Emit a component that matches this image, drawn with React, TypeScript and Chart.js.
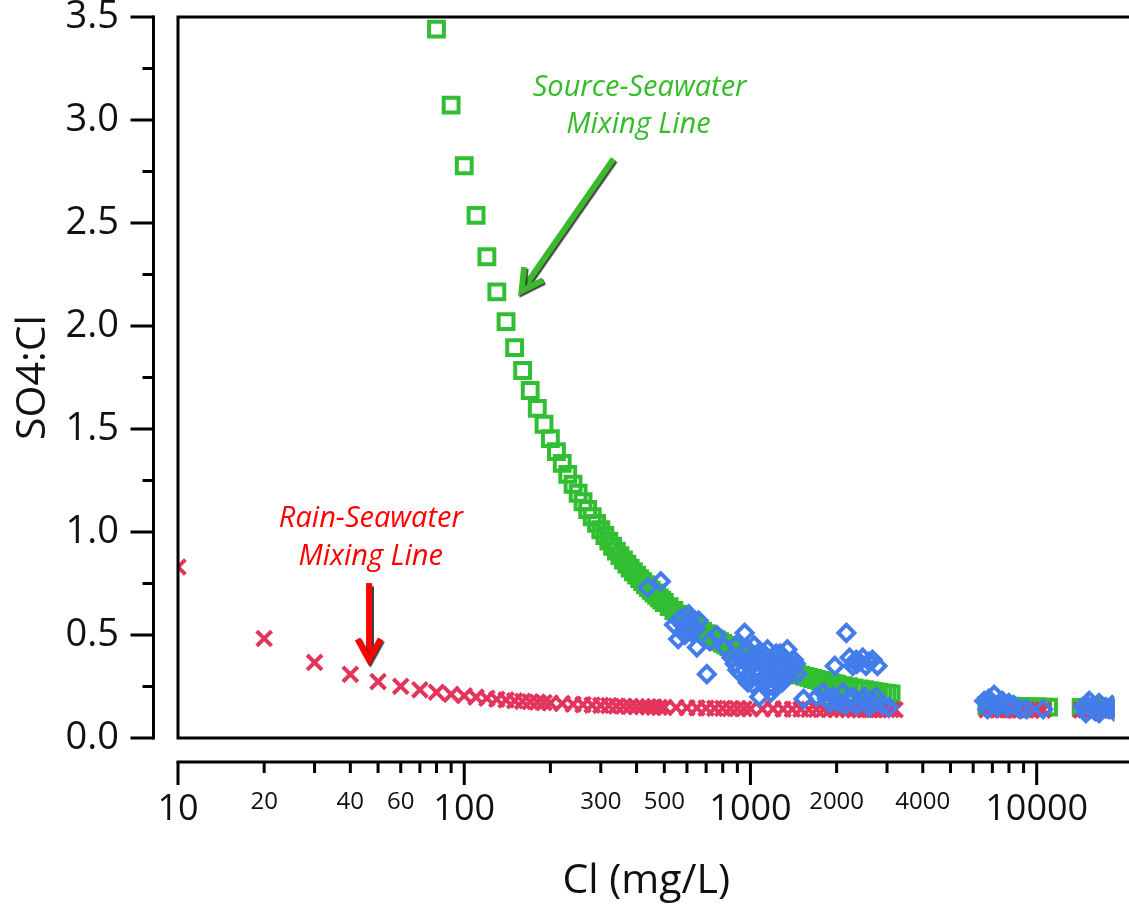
import React, { useEffect, useRef } from 'react';
import { Chart, registerables } from 'chart.js';

Chart.register(...registerables);

// ---------- DATA ----------
// Rain–Seawater mixing line (red ×)
const rainCl = [
  10, 20, 30, 40, 50, 60, 70, 80, 90, 100, 110, 120, 130, 140, 150, 160, 170, 180, 190, 200,
  220, 240, 260, 280, 300, 320, 340, 360, 380, 400, 420, 440, 460, 480, 500,
  550, 600, 650, 700, 750, 800, 850, 900, 950, 1000,
  1100, 1200, 1300, 1400, 1500, 1600, 1700, 1800, 1900, 2000, 2100, 2200, 2300, 2400, 2500, 2600, 2700, 2800, 2900, 3000, 3100, 3200,
  6700, 7000, 7300, 7600, 7900, 8200, 8500, 8800, 9200, 9600, 10000, 10500,
  14300, 14800, 15300, 15800, 16300, 16800, 17300, 17800, 18300, 18800,
];
const rainRatio = [
  0.830, 0.483, 0.367, 0.309, 0.274, 0.251, 0.234, 0.222, 0.212, 0.205, 0.198, 0.193, 0.188, 0.185, 0.181, 0.178, 0.176, 0.174, 0.172, 0.170,
  0.167, 0.164, 0.162, 0.160, 0.158, 0.157, 0.155, 0.154, 0.153, 0.152, 0.152, 0.151, 0.150, 0.149, 0.149,
  0.148, 0.147, 0.146, 0.145, 0.144, 0.144, 0.143, 0.143, 0.142, 0.142,
  0.141, 0.141, 0.140, 0.140, 0.140, 0.139, 0.139, 0.139, 0.139, 0.138, 0.138, 0.138, 0.138, 0.138, 0.138, 0.138, 0.138, 0.137, 0.137, 0.137, 0.137, 0.137,
  0.136, 0.137, 0.136, 0.135, 0.136, 0.136, 0.135, 0.136, 0.136, 0.135, 0.136, 0.135,
  0.135, 0.136, 0.135, 0.135, 0.136, 0.135, 0.135, 0.134, 0.135, 0.135,
];

// Source–Seawater mixing line (green squares)
const sourceCl = [
  80, 90, 100, 110, 120, 130, 140, 150, 160, 170, 180, 190, 200, 210, 220, 230, 240, 250, 260, 270,
  280, 290, 300, 310, 320, 330, 340, 350, 360, 370, 380, 390, 400, 410, 420, 430, 440, 450, 460, 470,
  480, 490, 500,
  520, 540, 560, 580, 600, 620, 640, 660, 680, 700, 720, 740, 760, 780, 800, 820, 840, 860, 880, 900,
  920, 940, 960, 980, 1000,
  1050, 1100, 1150, 1200, 1250, 1300, 1350, 1400, 1450, 1500, 1550, 1600, 1650, 1700, 1750, 1800, 1850,
  1900, 1950, 2000,
  2100, 2200, 2300, 2400, 2500, 2600, 2700, 2800, 2900, 3000, 3100,
  6700, 7000, 7300, 7600, 7900, 8200, 8500, 8800, 9200, 9600, 10000, 10500, 11000,
  14300, 14800, 15300, 15800, 16300, 16800, 17300, 17800, 18300, 18800,
];
const sourceRatio = [
  3.441, 3.072, 2.778, 2.537, 2.336, 2.166, 2.021, 1.895, 1.784, 1.687, 1.600, 1.523, 1.453, 1.390, 1.333, 1.280, 1.232, 1.188, 1.147, 1.109,
  1.074, 1.042, 1.011, 0.983, 0.956, 0.931, 0.907, 0.885, 0.864, 0.844, 0.825, 0.807, 0.791, 0.774, 0.759, 0.744, 0.730, 0.717, 0.704, 0.692,
  0.680, 0.669, 0.658,
  0.638, 0.619, 0.601, 0.585, 0.570, 0.555, 0.542, 0.530, 0.518, 0.507, 0.496, 0.486, 0.477, 0.468, 0.459, 0.451, 0.443, 0.436, 0.429, 0.422,
  0.416, 0.410, 0.404, 0.398, 0.393,
  0.380, 0.369, 0.358, 0.349, 0.340, 0.332, 0.324, 0.317, 0.311, 0.305, 0.299, 0.294, 0.289, 0.284, 0.279, 0.275, 0.271,
  0.268, 0.264, 0.261,
  0.254, 0.249, 0.243, 0.238, 0.234, 0.230, 0.226, 0.223, 0.219, 0.216, 0.214,
  0.158, 0.157, 0.156, 0.155, 0.155, 0.154, 0.153, 0.153, 0.152, 0.151, 0.151, 0.150, 0.150,
  0.148, 0.148, 0.147, 0.147, 0.146, 0.146, 0.146, 0.145, 0.145, 0.145,
];

// Water samples (blue diamonds)
const sampleCl = [
  437, 486,
  562, 609, 633, 585, 541, 659, 625, 575, 600, 645, 590, 615,
  559, 650, 704, 762, 721, 812, 954,
  905, 979, 1060, 1147, 1209, 1005, 1117, 1242, 1380, 1417, 929, 1060, 1178, 1309, 979, 1242, 881, 1345, 1455,
  1030, 1270, 1100, 1400, 950, 1200, 890,
  920, 960, 1020, 1090, 1130, 1170, 1230, 1290, 1330, 1040, 1140, 1210, 1250, 990, 1110, 1200, 1290, 1020, 1160, 1390, 1440, 900, 860,
  1074, 1178, 1533, 1705,
  1797, 1945, 2106, 2279, 2467, 2051, 2341, 2743, 3047, 1894, 2601,
  1850, 2000, 2200, 2400, 2500, 2700, 2900, 2150, 2600,
  1971, 2163,
  2220, 2341, 2467, 2279, 2534, 2670, 2778, 2400, 2600, 2350,
  6560, 7100, 7580, 6730, 7290, 7890, 8310, 8760, 9240, 10540, 6900, 7400, 8000, 6800,
  14480, 15260, 16510, 17410, 14860, 16510, 18360, 15700, 16000, 17900, 18600, 15000,
];
const sampleRatio = [
  0.73, 0.76,
  0.57, 0.60, 0.54, 0.52, 0.55, 0.57, 0.51, 0.58, 0.55, 0.53, 0.50, 0.57,
  0.48, 0.44, 0.31, 0.50, 0.47, 0.44, 0.51,
  0.39, 0.43, 0.41, 0.43, 0.39, 0.35, 0.36, 0.35, 0.36, 0.38, 0.31, 0.30, 0.31, 0.30, 0.27, 0.27, 0.36, 0.43, 0.31,
  0.45, 0.41, 0.27, 0.33, 0.33, 0.25, 0.45,
  0.40, 0.37, 0.38, 0.39, 0.40, 0.37, 0.41, 0.38, 0.36, 0.33, 0.34, 0.33, 0.31, 0.30, 0.29, 0.29, 0.27, 0.26, 0.25, 0.32, 0.36, 0.33, 0.39,
  0.20, 0.22, 0.19, 0.20,
  0.22, 0.20, 0.22, 0.20, 0.19, 0.17, 0.16, 0.20, 0.15, 0.17, 0.15,
  0.19, 0.18, 0.19, 0.17, 0.20, 0.17, 0.16, 0.16, 0.18,
  0.35, 0.51,
  0.39, 0.38, 0.39, 0.35, 0.35, 0.38, 0.35, 0.37, 0.37, 0.36,
  0.18, 0.21, 0.18, 0.14, 0.15, 0.15, 0.16, 0.14, 0.14, 0.14, 0.17, 0.17, 0.17, 0.19,
  0.15, 0.18, 0.17, 0.15, 0.12, 0.12, 0.16, 0.15, 0.13, 0.14, 0.13, 0.16,
];

// Axis ticks
const yMajorTicks = [0, 0.5, 1.0, 1.5, 2.0, 2.5, 3.0, 3.5];
const yMinorTicks = [0.25, 0.75, 1.25, 1.75, 2.25, 2.75, 3.25];
const xLabelTicks = [10, 20, 40, 60, 100, 300, 500, 1000, 2000, 4000, 10000];
const xMajorTicks = [10, 100, 1000, 10000];
const xMinorTicks = [
  20, 30, 40, 50, 60, 70, 80, 90,
  200, 300, 400, 500, 600, 700, 800, 900,
  2000, 3000, 4000, 5000, 6000, 7000, 8000, 9000,
];

// Annotations (anchored in data units)
const sourceLabel = [
  { text: 'Source-Seawater', x: 410, y: 3.117 },
  { text: 'Mixing Line', x: 406, y: 2.937 },
];
const rainLabel = [
  { text: 'Rain-Seawater', x: 47.2, y: 1.024 },
  { text: 'Mixing Line', x: 47.1, y: 0.84 },
];
const sourceArrow = { from: [332, 2.811], to: [155, 2.15] };
const rainArrow = { from: [46.5, 0.752], to: [46.5, 0.354] };

// ---------- STYLE ----------
const RED = '#E3345C';
const GREEN = '#32BE32';
const BLUE = '#437CEB';
const TEXT_GREEN = '#36BC28';
const TEXT_RED = '#FF0000';
const FONT = '"Open Sans", "DejaVu Sans", sans-serif';

const zip = (xs: number[], ys: number[]) => xs.map((x, i) => ({ x, y: ys[i] }));

function drawArrow(ctx: CanvasRenderingContext2D, x1: number, y1: number, x2: number, y2: number, color: string, width: number, head: number) {
  const ang = Math.atan2(y2 - y1, x2 - x1);
  const back = 5;
  const tx = x2 - Math.cos(ang) * back;
  const ty = y2 - Math.sin(ang) * back;
  ctx.save();
  ctx.shadowColor = 'rgba(30,30,30,0.85)';
  ctx.shadowOffsetX = 1.5;
  ctx.shadowOffsetY = 1.5;
  ctx.shadowBlur = 1;
  ctx.strokeStyle = color;
  ctx.lineWidth = width;
  ctx.lineCap = 'butt';
  ctx.lineJoin = 'miter';
  ctx.beginPath();
  ctx.moveTo(x1, y1);
  ctx.lineTo(tx - Math.cos(ang) * 3, ty - Math.sin(ang) * 3);
  ctx.stroke();
  const spread = 0.5;
  ctx.beginPath();
  ctx.moveTo(tx - head * Math.cos(ang - spread), ty - head * Math.sin(ang - spread));
  ctx.lineTo(tx, ty);
  ctx.lineTo(tx - head * Math.cos(ang + spread), ty - head * Math.sin(ang + spread));
  ctx.stroke();
  ctx.restore();
}

const framePlugin = {
  id: 'igorFrame',
  afterDraw(chart: any) {
    const { ctx, chartArea: a, scales } = chart;
    const xs = scales.x;
    const ys = scales.y;
    ctx.save();
    ctx.strokeStyle = '#000';
    ctx.lineWidth = 3;
    ctx.lineJoin = 'miter';
    ctx.lineCap = 'butt';

    // plot frame
    ctx.beginPath();
    ctx.moveTo(chart.width + 5, a.top);
    ctx.lineTo(a.left, a.top);
    ctx.lineTo(a.left, a.bottom);
    ctx.lineTo(chart.width + 5, a.bottom);
    ctx.stroke();

    // detached y axis
    const ax = a.left - 24.5;
    const yBottom = ys.getPixelForValue(0);
    const yTop = ys.getPixelForValue(3.5);
    ctx.beginPath();
    ctx.moveTo(ax, yTop - 1.5);
    ctx.lineTo(ax, yBottom + 1.5);
    ctx.stroke();
    ctx.beginPath();
    yMajorTicks.forEach((v) => {
      const p = ys.getPixelForValue(v);
      ctx.moveTo(ax - 23, p);
      ctx.lineTo(ax, p);
    });
    yMinorTicks.forEach((v) => {
      const p = ys.getPixelForValue(v);
      ctx.moveTo(ax - 11, p);
      ctx.lineTo(ax, p);
    });
    ctx.stroke();

    // detached x axis
    const ay = a.bottom + 24;
    const xLeft = xs.getPixelForValue(10);
    ctx.beginPath();
    ctx.moveTo(xLeft - 1.5, ay);
    ctx.lineTo(chart.width + 5, ay);
    ctx.stroke();
    ctx.beginPath();
    xMajorTicks.forEach((v) => {
      const p = xs.getPixelForValue(v);
      ctx.moveTo(p, ay);
      ctx.lineTo(p, ay + 23);
    });
    xMinorTicks.forEach((v) => {
      const p = xs.getPixelForValue(v);
      ctx.moveTo(p, ay);
      ctx.lineTo(p, ay + 11);
    });
    ctx.stroke();
    ctx.restore();

    // annotations
    ctx.save();
    ctx.font = `italic 29px ${FONT}`;
    ctx.textAlign = 'center';
    ctx.textBaseline = 'alphabetic';
    ctx.fillStyle = TEXT_GREEN;
    sourceLabel.forEach((l) => ctx.fillText(l.text, xs.getPixelForValue(l.x), ys.getPixelForValue(l.y)));
    ctx.fillStyle = TEXT_RED;
    rainLabel.forEach((l) => ctx.fillText(l.text, xs.getPixelForValue(l.x), ys.getPixelForValue(l.y)));
    ctx.restore();

    drawArrow(
      ctx,
      xs.getPixelForValue(sourceArrow.from[0]), ys.getPixelForValue(sourceArrow.from[1]),
      xs.getPixelForValue(sourceArrow.to[0]), ys.getPixelForValue(sourceArrow.to[1]),
      '#3BB82C', 6, 24,
    );
    drawArrow(
      ctx,
      xs.getPixelForValue(rainArrow.from[0]), ys.getPixelForValue(rainArrow.from[1]),
      xs.getPixelForValue(rainArrow.to[0]), ys.getPixelForValue(rainArrow.to[1]),
      '#FF0000', 6, 24,
    );
  },
};

export default function App() {
  const canvasRef = useRef<HTMLCanvasElement | null>(null);

  useEffect(() => {
    document.body.style.margin = '0';
    document.body.style.overflow = 'hidden';
    const canvas = canvasRef.current;
    if (!canvas) return;

    const chart = new Chart(canvas, {
      type: 'scatter',
      data: {
        datasets: [
          {
            label: 'Samples',
            data: zip(sampleCl, sampleRatio),
            pointStyle: 'rectRot',
            pointRadius: 8,
            pointBorderWidth: 4,
            pointBorderColor: BLUE,
            pointBackgroundColor: 'rgba(0,0,0,0)',
            borderColor: BLUE,
            backgroundColor: 'rgba(0,0,0,0)',
            clip: 0,
          },
          {
            label: 'Rain-Seawater Mixing Line',
            data: zip(rainCl, rainRatio),
            pointStyle: 'crossRot',
            pointRadius: 10.5,
            pointBorderWidth: 4,
            pointBorderColor: RED,
            pointBackgroundColor: 'rgba(0,0,0,0)',
            borderColor: RED,
            backgroundColor: 'rgba(0,0,0,0)',
            clip: 0,
          },
          {
            label: 'Source-Seawater Mixing Line',
            data: zip(sourceCl, sourceRatio),
            pointStyle: 'rect',
            pointRadius: 10.5,
            pointBorderWidth: 4,
            pointBorderColor: GREEN,
            pointBackgroundColor: 'rgba(0,0,0,0)',
            borderColor: GREEN,
            backgroundColor: 'rgba(0,0,0,0)',
            clip: 0,
          },
        ],
      } as any,
      options: {
        responsive: false,
        animation: false,
        devicePixelRatio: 1,
        layout: { padding: { top: 17, left: 0, right: 0, bottom: 0 } },
        plugins: { legend: { display: false }, tooltip: { enabled: false } },
        scales: {
          x: {
            type: 'logarithmic',
            position: 'bottom',
            min: 10,
            max: 18700,
            grid: { display: false, drawTicks: false },
            border: { display: false },
            afterBuildTicks: (s: any) => {
              s.ticks = xLabelTicks.map((v) => ({ value: v, major: xMajorTicks.includes(v) }));
            },
            afterFit: (s: any) => {
              s.height = 166;
              s.paddingLeft = 0;
              s.paddingRight = 0;
            },
            ticks: {
              autoSkip: false,
              maxRotation: 0,
              minRotation: 0,
              padding: 50,
              color: '#111',
              callback: (v: any) => String(v),
              font: (c: any) =>
                c.tick && xMajorTicks.includes(c.tick.value)
                  ? { family: FONT, size: 36 }
                  : { family: FONT, size: 24 },
            },
            title: {
              display: true,
              text: 'Cl (mg/L)',
              color: '#111',
              font: { family: FONT, size: 41, lineHeight: 1 },
              padding: { top: 0, bottom: 2 },
            },
          },
          y: {
            type: 'linear',
            position: 'left',
            min: 0,
            max: 3.5,
            grid: { display: false, drawTicks: false },
            border: { display: false },
            afterFit: (s: any) => {
              s.width = 178;
              s.paddingTop = 0;
              s.paddingBottom = 0;
            },
            ticks: {
              stepSize: 0.5,
              padding: 59,
              color: '#111',
              callback: (v: any) => Number(v).toFixed(1),
              font: { family: FONT, size: 38 },
            },
            title: {
              display: true,
              text: 'SO4:Cl',
              color: '#111',
              font: { family: FONT, size: 41, lineHeight: 1 },
              padding: { top: 13, bottom: 0 },
            },
          },
        },
      } as any,
      plugins: [framePlugin],
    });

    let alive = true;
    if ((document as any).fonts && (document as any).fonts.load) {
      Promise.all([
        (document as any).fonts.load(`36px ${FONT}`),
        (document as any).fonts.load(`italic 29px ${FONT}`),
      ])
        .then(() => {
          if (alive) chart.update();
        })
        .catch(() => {});
    }

    return () => {
      alive = false;
      chart.destroy();
    };
  }, []);

  return (
    <div style={{ width: 1129, height: 904, background: '#fff' }}>
      <canvas ref={canvasRef} width={1129} height={904} style={{ display: 'block' }} />
    </div>
  );
}
